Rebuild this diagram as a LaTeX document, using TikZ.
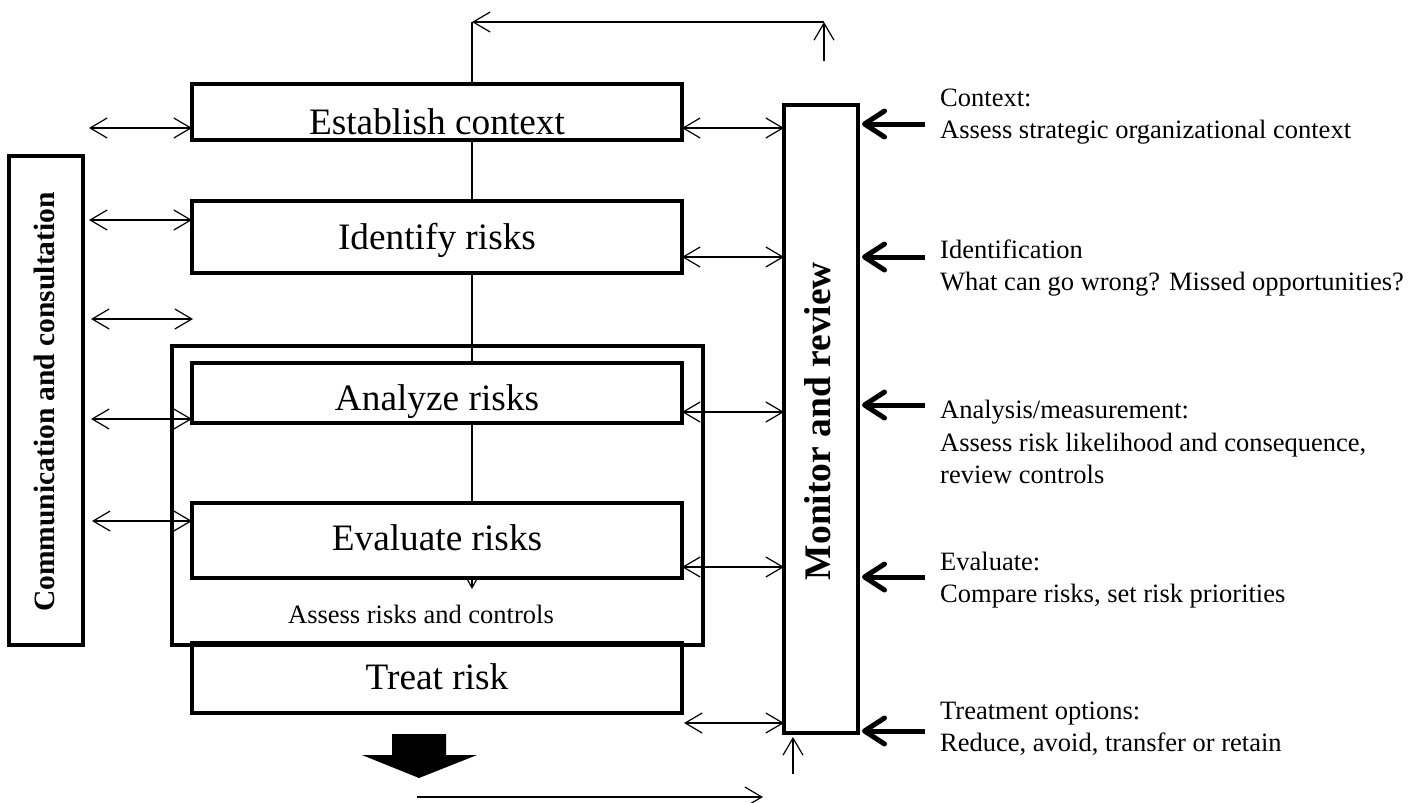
\documentclass[tikz,border=0pt]{standalone}
\usepackage{fontspec}
\setmainfont{Liberation Serif}
\usetikzlibrary{arrows.meta}

\tikzset{
  box/.style={draw, line width=3.2pt, inner sep=0pt, outer sep=0pt, anchor=north west},
  boxtext/.style={anchor=base, inner sep=0pt, font=\fontsize{37.3}{44}\selectfont},
  sidetext/.style={anchor=base west, inner sep=0pt, font=\fontsize{26.5}{32}\selectfont},
  vtitle/.style={rotate=90, anchor=center, inner sep=0pt, font=\bfseries},
  thinline/.style={line width=1.2pt},
  barb/.tip={Straight Barb[length=17pt, width=20pt]},
  smallbarb/.tip={Straight Barb[length=8pt, width=9pt]},
  twoway/.style={thinline, barb-barb},
  oneway/.style={thinline, -barb},
  heavy/.style={line width=5pt, -{Straight Barb[length=20pt, width=26pt, round]}},
}

\begin{document}
\begin{tikzpicture}[x=1pt, y=-1pt]
\useasboundingbox (0,0) rectangle (1416,803);

% process steps (text first, so the frames sit on top)
\node[boxtext] (est-t) at (437,134) {Establish context};
\node[boxtext] (ide-t) at (437,249) {Identify risks};
\node[boxtext] (ana-t) at (437,410) {Analyze risks};
\node[boxtext] (eva-t) at (437,550) {Evaluate risks};
\node[boxtext] (tre-t) at (437,689) {Treat risk};

\node[box, minimum width=490pt, minimum height=56pt] (est) at (192,84) {};
\node[box, minimum width=490pt, minimum height=72pt] (ide) at (192,201) {};
\node[box, minimum width=490pt, minimum height=60pt] (ana) at (192,363) {};
\node[box, minimum width=490pt, minimum height=75pt] (eva) at (192,503) {};
\node[box, minimum width=490pt, minimum height=70pt] (tre) at (192,643) {};

% risk assessment group
\node[box, minimum width=531pt, minimum height=299pt] (grp) at (172,346) {};
\node[sidetext, anchor=base] (grp-t) at (421,623) {Assess risks and controls};

% side columns
\node[box, minimum width=74pt, minimum height=628pt] (mon) at (784,105) {};
\node[vtitle, font=\bfseries\fontsize{37.5}{44}\selectfont] (mon-t) at (818,421) {Monitor and review};
\node[box, minimum width=74pt, minimum height=489pt] (com) at (9,156) {};
\node[vtitle, font=\bfseries\fontsize{29.5}{36}\selectfont] (com-t) at (44,402) {Communication and consultation};

% spine through the steps
\coordinate (sp) at (472,0);
\draw[thinline] (est.south -| sp) -- (ide.north -| sp);
\draw[thinline] (ide.south -| sp) -- (ana.north -| sp);
\draw[thinline] (ana.south -| sp) -- (eva.north -| sp);
\draw[thinline, -smallbarb] (eva.south -| sp) -- ++(0,11);

% feedback loop over the top
\coordinate (topL) at (472,22);
\coordinate (topR) at (824,22);
\coordinate (topRb) at (824,61);
\draw[thinline] (est.north -| topL) -- (topL);
\draw[oneway] (topR) -- (topL);
\draw[oneway] (topRb) -- (topR);

% communication links on the left
\coordinate (l1) at (89,128);
\coordinate (l2) at (89,220);
\coordinate (l3) at (91,319);
\coordinate (l3e) at (193,319);
\coordinate (l4) at (91,419);
\coordinate (l5) at (92,521);
\draw[twoway] (l1) -- (l1 -| est.west);
\draw[twoway] (l2) -- (l2 -| ide.west);
\draw[twoway] (l3) -- (l3e);
\draw[twoway] (l4) -- (l4 -| ana.west);
\draw[twoway] (l5) -- (l5 -| eva.west);

% monitoring links on the right
\coordinate (m1) at (0,128);
\coordinate (m2) at (0,257);
\coordinate (m3) at (0,412);
\coordinate (m4) at (0,567);
\coordinate (m5) at (0,723);
\draw[twoway] (m1 -| est.east) -- (m1 -| mon.west);
\draw[twoway] (m2 -| ide.east) -- (m2 -| mon.west);
\draw[twoway] (m3 -| ana.east) -- (m3 -| mon.west);
\draw[twoway] (m4 -| eva.east) -- (m4 -| mon.west);
\draw[twoway] ([xshift=2pt]m5 -| tre.east) -- (m5 -| mon.west);

% below the monitor column
\coordinate (u1) at (793,774);
\coordinate (u2) at (793,737);
\draw[oneway] (u1) -- (u2);
\coordinate (b1) at (417,797);
\coordinate (b2) at (763,797);
\draw[oneway] (b1) -- (b2);

% output arrow under the treatment step
\fill (392,734) -- (446,734) -- (446,755) -- (477,755) -- (419,778)
      -- (362,755) -- (392,755) -- cycle;

% stage descriptions
\coordinate (a1) at (925,124);
\coordinate (a2) at (925,257);
\coordinate (a3) at (925,405);
\coordinate (a4) at (925,577);
\coordinate (a5) at (925,731);
\draw[heavy] (a1) -- ([xshift=4pt]a1 -| mon.east);
\draw[heavy] (a2) -- ([xshift=4pt]a2 -| mon.east);
\draw[heavy] (a3) -- ([xshift=4pt]a3 -| mon.east);
\draw[heavy] (a4) -- ([xshift=4pt]a4 -| mon.east);
\draw[heavy] (a5) -- ([xshift=4pt]a5 -| mon.east);

\node[sidetext] (d1a) at (940,106) {Context:};
\node[sidetext] (d1b) at (940,138) {Assess strategic organizational context};
\node[sidetext] (d2a) at (940,258) {Identification};
\node[sidetext] (d2b) at (940,290) {What can go wrong? Missed opportunities?};
\node[sidetext] (d3a) at (940,418) {Analysis/measurement:};
\node[sidetext] (d3b) at (940,451) {Assess risk likelihood and consequence,};
\node[sidetext] (d3c) at (940,483) {review controls};
\node[sidetext] (d4a) at (940,570) {Evaluate:};
\node[sidetext] (d4b) at (940,602) {Compare risks, set risk priorities};
\node[sidetext] (d5a) at (940,719) {Treatment options:};
\node[sidetext] (d5b) at (940,751) {Reduce, avoid, transfer or retain};
\end{tikzpicture}
\end{document}
